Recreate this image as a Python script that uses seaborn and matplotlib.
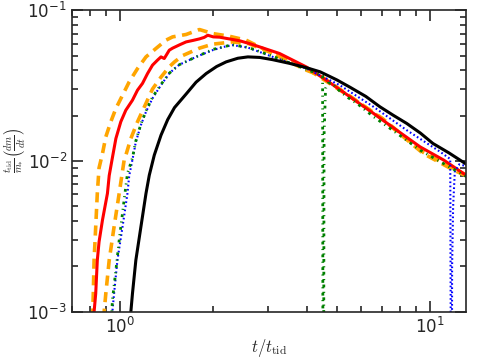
import numpy as np
import pandas as pd
import matplotlib
matplotlib.use("Agg")
import matplotlib.pyplot as plt
import matplotlib.ticker as mticker
import seaborn as sns

# values (t / t_tid, normalised mass fallback rate)
t_black = [1.08, 1.085, 1.098, 1.126, 1.169, 1.214, 1.244, 1.291, 1.357, 1.426, 1.5, 1.635, 1.76,
           1.897, 2.05, 2.2, 2.4, 2.585, 2.82, 3.1, 3.52, 4.0, 4.42, 5.0, 5.52, 6.2, 6.88, 7.6,
           8.4, 9.3, 10.2, 11.5, 13.2]
v_black = [9e-4, 1e-3, 1.32e-3, 2.2e-3, 3.66e-3, 6.1e-3, 8.05e-3, 0.01094, 0.01483, 0.0188, 0.0226, 0.0278, 0.0333,
           0.038, 0.0423, 0.0454, 0.048, 0.049, 0.0486, 0.047, 0.0444, 0.0415, 0.039, 0.0345, 0.0308, 0.0268, 0.0229, 0.0201,
           0.01774, 0.0153, 0.01307, 0.0113, 0.0094]

t_red = [0.822, 0.826, 0.836, 0.846, 0.857, 0.879, 0.912, 0.924, 0.946, 0.971, 1.007, 1.045, 1.098,
         1.14, 1.183, 1.228, 1.274, 1.323, 1.357, 1.39, 1.443, 1.479, 1.56, 1.635, 1.72, 1.805, 1.87,
         1.92, 2.0, 2.095, 2.25, 2.43, 2.62, 2.82, 3.27, 3.99, 4.63, 5.52, 6.56, 7.8, 9.28, 11.05,
         12.8, 13.2]
v_red = [8e-4, 1e-3, 1.32e-3, 2.2e-3, 2.91e-3, 4.06e-3, 6.1e-3, 8.0e-3, 0.0105, 0.0141, 0.0182, 0.0217, 0.0253,
         0.0295, 0.0327, 0.038, 0.0432, 0.0467, 0.049, 0.0478, 0.0543, 0.056, 0.059, 0.0616, 0.063, 0.0645, 0.066,
         0.0682, 0.0665, 0.0662, 0.0645, 0.0627, 0.06, 0.0571, 0.0516, 0.042, 0.0343, 0.0266, 0.0207, 0.016, 0.0124,
         0.01014, 0.00826, 0.0079]

t_orange_hi = [0.815, 0.818, 0.821, 0.826, 0.836, 0.846, 0.857, 0.879, 0.901, 0.935, 0.971, 1.02, 1.072,
               1.14, 1.214, 1.307, 1.409, 1.479, 1.635, 1.805, 1.99, 2.25, 2.55, 3.11, 3.99, 4.4, 5.5,
               7.0, 9.5, 11.9, 13.2]
v_orange_hi = [7e-4, 1e-3, 1.32e-3, 2.2e-3, 3.66e-3, 6.1e-3, 9.0e-3, 0.0112, 0.01445, 0.0182, 0.0223, 0.0273, 0.0335,
               0.041, 0.049, 0.0557, 0.0633, 0.0665, 0.069, 0.0744, 0.07, 0.0672, 0.0633, 0.0516, 0.040, 0.037, 0.027,
               0.019, 0.0112, 0.0087, 0.0079]

t_orange_lo = [0.888, 0.89, 0.901, 0.924, 0.958, 0.995, 1.032, 1.045, 1.085, 1.14, 1.2, 1.274, 1.357,
               1.443, 1.5, 1.594, 1.805, 1.99, 2.31, 2.6, 3.1, 4.0, 5.5, 7.0, 9.5, 11.9, 13.2]
v_orange_lo = [9e-4, 1e-3, 1.32e-3, 2.2e-3, 3.66e-3, 6.1e-3, 0.0101, 0.0109, 0.0141, 0.0182, 0.0229, 0.030, 0.036,
               0.0421, 0.0454, 0.050, 0.056, 0.0595, 0.0616, 0.060, 0.052, 0.041, 0.0268, 0.0192, 0.0114, 0.0089, 0.008]

t_blue = [0.944, 0.946, 0.958, 0.982, 1.02, 1.058, 1.072, 1.098, 1.126, 1.169, 1.214, 1.274, 1.357,
          1.443, 1.5, 1.555, 1.65, 1.76, 1.99, 2.15, 2.31, 2.585, 3.11, 3.99, 5.1, 6.56, 8.4, 10.77,
          11.6, 11.72, 11.76, 11.85, 12.0, 12.4, 13.2]
v_blue = [9e-4, 1e-3, 1.32e-3, 2.2e-3, 3.66e-3, 6.1e-3, 8.0e-3, 0.0102, 0.0134, 0.0173, 0.0212, 0.026, 0.0319,
          0.038, 0.041, 0.0435, 0.046, 0.049, 0.0543, 0.057, 0.0586, 0.0565, 0.049, 0.041, 0.0319, 0.0229, 0.016, 0.0115,
          0.0103, 1e-5, 0.002, 0.005, 0.0085, 0.0095, 0.0092]

t_green = [0.94, 0.946, 0.971, 0.995, 1.032, 1.058, 1.098, 1.126, 1.169, 1.214, 1.274, 1.357, 1.443,
           1.555, 1.76, 2.0, 2.3, 2.6, 3.1, 3.99, 4.5, 4.52, 4.55, 4.6, 4.69, 4.81, 5.1, 5.45, 5.85,
           6.56, 7.8, 9.28, 11.05, 13.2]
v_green = [9e-4, 1.19e-3, 1.89e-3, 2.98e-3, 5.5e-3, 8.26e-3, 0.0105, 0.0136, 0.0176, 0.0215, 0.0265, 0.0322, 0.0382,
           0.0435, 0.049, 0.055, 0.059, 0.0565, 0.0495, 0.0405, 0.0368, 1e-5, 0.015, 0.0303, 0.0327, 0.033, 0.0292,
           0.0262, 0.0238, 0.0197, 0.0153, 0.0118, 0.0096, 0.0078]

sns.set_style("ticks")
plt.rcParams["mathtext.fontset"] = "dejavusans"
plt.rcParams["font.family"] = ["DejaVu Sans"]

fig = plt.figure(figsize=(4.85, 3.63), dpi=100)
ax = fig.add_axes([0.148, 0.141, 0.812, 0.831])

sns.lineplot(x=t_orange_hi, y=v_orange_hi, ax=ax, color="orange", lw=2.6, sort=False)
sns.lineplot(x=t_orange_lo, y=v_orange_lo, ax=ax, color="orange", lw=2.6, sort=False)
sns.lineplot(x=t_red, y=v_red, ax=ax, color="red", lw=2.2, sort=False)
sns.lineplot(x=t_blue, y=v_blue, ax=ax, color="blue", lw=1.5, sort=False)
sns.lineplot(x=t_green, y=v_green, ax=ax, color="green", lw=2.0, sort=False)
sns.lineplot(x=t_black, y=v_black, ax=ax, color="black", lw=2.2, sort=False)

lines = ax.get_lines()
lines[0].set_dashes((2.8, 1.8))
lines[1].set_dashes((2.8, 1.8))
lines[3].set_dashes((0.8, 1.2))
lines[4].set_dashes((1.0, 1.6, 0.4, 1.6))

ax.set_xscale("log")
ax.set_yscale("log")
ax.set_xlim(0.7, 13)
ax.set_ylim(1e-3, 1e-1)
ax.xaxis.set_major_locator(mticker.LogLocator(base=10))
ax.xaxis.set_minor_locator(mticker.LogLocator(base=10, subs=np.arange(2, 10)))
ax.yaxis.set_minor_locator(mticker.LogLocator(base=10, subs=np.arange(2, 10)))
ax.xaxis.set_minor_formatter(mticker.NullFormatter())
ax.tick_params(which="both", direction="in", top=True, right=True, labelsize=12, width=1.2)
ax.tick_params(which="major", length=8)
ax.tick_params(which="minor", length=4)
for sp in ax.spines.values():
    sp.set_linewidth(1.2)

ax.set_xlabel(r"$t/t_{\rm tid}$", fontsize=12, math_fontfamily="cm", labelpad=0)
ax.set_ylabel(r"$\frac{t_{\rm tid}}{m_{*}}\left(\frac{dm}{dt}\right)$", fontsize=10.5, math_fontfamily="cm")
ax.yaxis.set_label_coords(-0.11, 0.535)

fig.savefig("out.png", dpi=100)
